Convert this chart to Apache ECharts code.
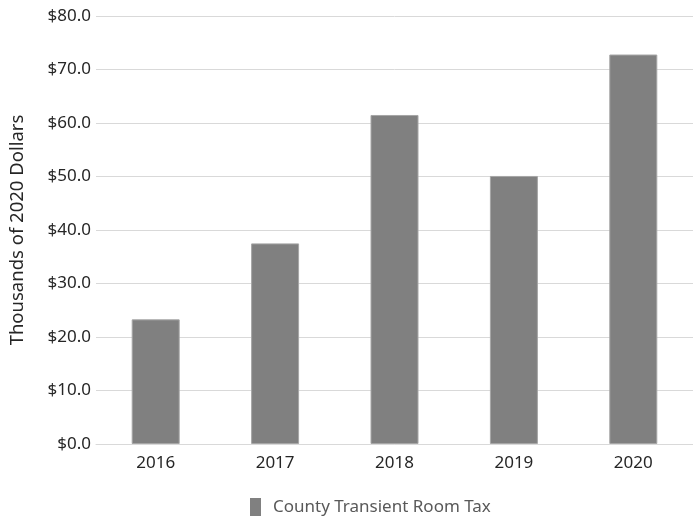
<!DOCTYPE html>
<html>
<head>
<meta charset="utf-8">
<script src="https://cdn.jsdelivr.net/npm/echarts@6/dist/echarts.min.js"></script>
<style>html,body{margin:0;padding:0;background:#fff}#c{width:693px;height:521px}</style>
</head>
<body>
<div id="c"></div>
<script>
var categories = ['2016', '2017', '2018', '2019', '2020'];
var seriesName = 'County Transient Room Tax';
var values = [23.3, 37.5, 61.5, 50.1, 72.8];
var axisTitle = 'Thousands of 2020 Dollars';

var FONT = '"Noto Sans", sans-serif';
var chart = echarts.init(document.getElementById('c'));
chart.setOption({
  animation: false,
  textStyle: { fontFamily: FONT },
  grid: { left: 95, top: 16, width: 601, bottom: 77 },
  legend: {
    bottom: 0, left: 245,
    itemWidth: 11, itemHeight: 18, itemGap: 10,
    icon: 'rect',
    itemStyle: { borderWidth: 0 },
    textStyle: { fontFamily: FONT, fontSize: 17, color: '#595959', padding: [0, 0, 0, 7] },
    data: [seriesName]
  },
  xAxis: {
    type: 'category', data: categories,
    axisLine: { lineStyle: { color: '#d9d9d9', width: 1 } },
    axisTick: { show: false },
    axisLabel: { fontFamily: FONT, fontSize: 17, color: '#262626', margin: 11 }
  },
  yAxis: {
    type: 'value', min: 0, max: 80, interval: 10,
    name: axisTitle, nameLocation: 'middle', nameGap: 69,
    nameTextStyle: { fontFamily: FONT, fontSize: 18.5, color: '#262626' },
    axisLine: { show: false }, axisTick: { show: false },
    splitLine: { lineStyle: { color: '#d9d9d9', width: 1 } },
    axisLabel: { fontFamily: FONT, fontSize: 17, color: '#262626', margin: 5,
      formatter: function (v) { return '$' + v.toFixed(1); } }
  },
  series: [{
    name: seriesName, type: 'bar', data: values, barWidth: 48,
    itemStyle: { color: '#808080', borderColor: '#a6a6a6', borderWidth: 1 }
  }]
});
</script>
</body>
</html>
